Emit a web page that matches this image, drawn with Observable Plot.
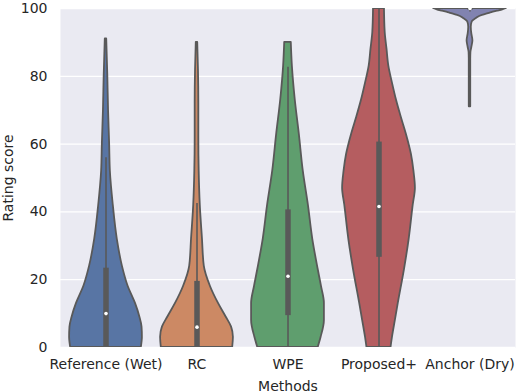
<!DOCTYPE html>
<html>
<head>
<meta charset="utf-8">
<script src="https://cdn.jsdelivr.net/npm/d3@7"></script>
<script src="https://cdn.jsdelivr.net/npm/@observablehq/plot@0.6"></script>
<style>
  html, body { margin: 0; padding: 0; background: #ffffff; }
  #chart { width: 516px; height: 392px; }
</style>
</head>
<body>
<div id="chart"></div>
<script>
// Categories
const methods = ["Reference (Wet)", "RC", "WPE", "Proposed+", "Anchor (Dry)"];
const yTicks = [0, 20, 40, 60, 80, 100];

// Violin density profiles (value, relative density width; 1 = widest)
const refValues  = [0, 3, 6, 9, 13, 18, 24, 32, 42, 52, 60, 70, 80, 91];
const refDensity = [0.97, 1.0, 0.99, 0.93, 0.81, 0.61, 0.45, 0.31, 0.2, 0.12, 0.1, 0.07, 0.05, 0.02];

const rcValues  = [0, 3, 6, 9, 13, 18, 24, 32, 42, 52, 62, 72, 82, 90];
const rcDensity = [0.98, 1.0, 0.95, 0.8, 0.59, 0.37, 0.2, 0.15, 0.09, 0.06, 0.05, 0.05, 0.04, 0.02];

const wpeValues  = [0, 3, 8, 13, 18, 23, 32, 42, 52, 63, 73, 83, 90];
const wpeDensity = [0.83, 0.91, 1.0, 1.0, 0.92, 0.83, 0.68, 0.56, 0.42, 0.31, 0.2, 0.12, 0.09];

const propValues  = [0, 3, 8, 13, 23, 32, 42, 47, 52, 57, 63, 68, 73, 78, 83, 88, 93, 100];
const propDensity = [0.33, 0.37, 0.45, 0.53, 0.7, 0.83, 0.94, 1.0, 0.96, 0.89, 0.75, 0.61, 0.48, 0.37, 0.27, 0.22, 0.17, 0.15];

const anchorValues  = [71, 75, 80, 85, 87, 88.5, 90.5, 92.5, 94.5, 96, 97, 98, 98.4, 98.8, 99.2, 99.6, 100];
const anchorDensity = [0.02, 0.02, 0.02, 0.02, 0.025, 0.05, 0.08, 0.05, 0.035, 0.06, 0.165, 0.34, 0.48, 0.6, 0.75, 0.9, 1.0];

// Box statistics per method
const q1      = [0, 0, 9.4, 26.6, 99.5];
const medians = [10, 6, 21, 41.6, 100];
const q3      = [23.4, 19.5, 40.6, 60.6, 100];
const whiskLo = [0, 0, 0, 0, 99];
const whiskHi = [56, 42.5, 82.7, 100, 100];

const fills = ["#5875a4", "#cc8964", "#5f9e6e", "#b55d60", "#8183b0"];
const edge = "#595959";

const profiles = [
  [refValues, refDensity],
  [rcValues, rcDensity],
  [wpeValues, wpeDensity],
  [propValues, propDensity],
  [anchorValues, anchorDensity]
];

const halfWidth = 0.4;

const violinMarks = profiles.map(([vals, dens], i) => {
  const rows = vals.map((v, k) => ({m: i, value: v, d: dens[k]}));
  return Plot.areaX(rows, {
    y: "value",
    x1: r => r.m - halfWidth * r.d,
    x2: r => r.m + halfWidth * r.d,
    fill: fills[i],
    stroke: edge,
    strokeWidth: 1.8,
    curve: "monotone-y",
    clip: true
  });
});

const stats = methods.map((name, i) => ({
  m: i, q1: q1[i], med: medians[i], q3: q3[i], lo: whiskLo[i], hi: whiskHi[i]
}));

const chart = Plot.plot({
  width: 516,
  height: 392,
  marginTop: 8,
  marginBottom: 45,
  marginLeft: 60,
  marginRight: 1,
  style: {fontFamily: "DejaVu Sans", fontSize: "14px", color: "#262626", background: "transparent"},
  x: {domain: [-0.5, 4.5]},
  y: {domain: [0, 100]},
  marks: [
    Plot.frame({fill: "#eaeaf2", stroke: null}),
    Plot.gridY(yTicks, {stroke: "#ffffff", strokeOpacity: 1, strokeWidth: 1.3}),
    ...violinMarks,
    Plot.ruleX(stats, {x: "m", y1: "lo", y2: "hi", stroke: edge, strokeWidth: 1.6}),
    Plot.ruleX(stats, {x: "m", y1: "q1", y2: "q3", stroke: edge, strokeWidth: 5.5}),
    Plot.dot(stats, {x: "m", y: "med", r: 1.8, fill: "#ffffff", stroke: null}),
    Plot.axisY(yTicks, {tickSize: 0, tickPadding: 13, label: "Rating score", labelAnchor: "center", labelArrow: "none", labelOffset: 57}),
    Plot.axisX([0, 1, 2, 3, 4], {tickSize: 0, tickPadding: 12, tickFormat: i => methods[i], label: "Methods", labelAnchor: "center", labelArrow: "none", labelOffset: 43})
  ]
});

document.getElementById("chart").appendChild(chart);
</script>
</body>
</html>
